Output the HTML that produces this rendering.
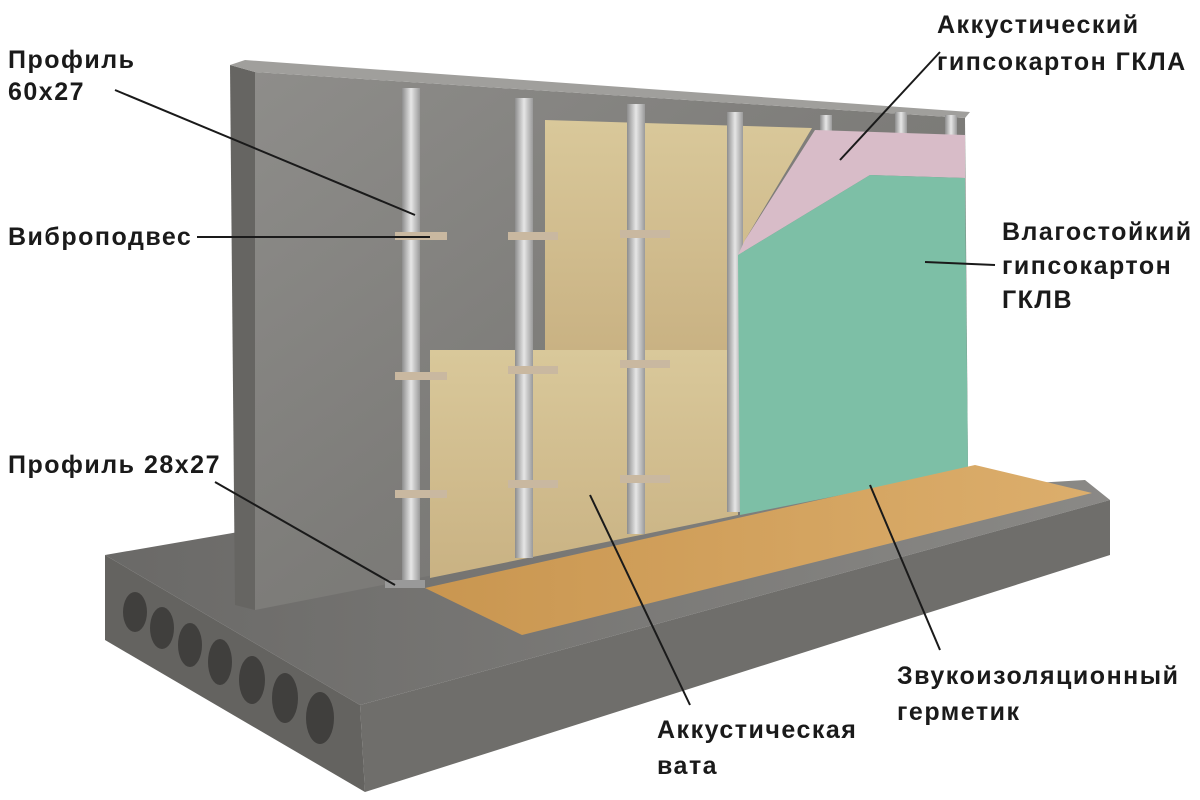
<!DOCTYPE html>
<html><head><meta charset="utf-8"><style>
html,body{margin:0;padding:0;background:#fff;}
svg{display:block}
text{font-family:"Liberation Sans",sans-serif;font-size:25px;fill:#1a1a1a;font-weight:bold;letter-spacing:1.5px;}
</style></head><body>
<svg width="1200" height="800" viewBox="0 0 1200 800" xmlns="http://www.w3.org/2000/svg">
<defs>
<linearGradient id="wall" x1="0" y1="0" x2="1" y2="1">
<stop offset="0" stop-color="#8e8d8a"/><stop offset="0.5" stop-color="#7d7c79"/><stop offset="1" stop-color="#72716e"/></linearGradient>
<linearGradient id="slabTop" x1="0" y1="0" x2="1" y2="0">
<stop offset="0" stop-color="#6a6967"/><stop offset="1" stop-color="#8a8986"/></linearGradient>
<linearGradient id="wood" x1="0" y1="0" x2="1" y2="0">
<stop offset="0" stop-color="#c99650"/><stop offset="1" stop-color="#dcae6c"/></linearGradient>
<linearGradient id="wool" x1="0" y1="0" x2="0" y2="1">
<stop offset="0" stop-color="#d9c89a"/><stop offset="1" stop-color="#c9b283"/></linearGradient>
<linearGradient id="metal" x1="0" y1="0" x2="1" y2="0">
<stop offset="0" stop-color="#8d8d8d"/><stop offset="0.5" stop-color="#e6e6e6"/><stop offset="1" stop-color="#9a9a9a"/></linearGradient>
</defs>
<polygon points="105,555 250,530 1085,480 1110,500 360,705" fill="url(#slabTop)"/>
<polygon points="360,705 1110,500 1110,555 365,792" fill="#6f6e6b"/>
<polygon points="105,555 360,705 365,792 105,640" fill="#646360"/>
<g fill="#403f3d">
<ellipse cx="135" cy="612" rx="12" ry="20"/><ellipse cx="162" cy="628" rx="12" ry="21"/>
<ellipse cx="190" cy="645" rx="12" ry="22"/><ellipse cx="220" cy="662" rx="12" ry="23"/>
<ellipse cx="252" cy="680" rx="13" ry="24"/><ellipse cx="285" cy="698" rx="13" ry="25"/>
<ellipse cx="320" cy="718" rx="14" ry="26"/></g>
<polygon points="230,65 255,72 255,610 235,605" fill="#666562"/>
<polygon points="255,72 965,118 968,470 255,610" fill="url(#wall)"/>
<polygon points="230,65 245,60 970,112 965,118 255,72" fill="#a09f9c"/>
<polygon points="545,120 812,128 745,240 735,350 545,350" fill="url(#wool)"/>
<polygon points="430,350 735,350 738,515 430,578" fill="url(#wool)"/>
<g fill="url(#metal)">
<rect x="402" y="88" width="18" height="500"/><rect x="515" y="98" width="18" height="460"/>
<rect x="627" y="104" width="18" height="430"/><rect x="727" y="112" width="16" height="400"/>
<rect x="820" y="115" width="12" height="20"/><rect x="895" y="112" width="12" height="25"/>
<rect x="945" y="115" width="12" height="25"/></g>
<g fill="#c9b8a0">
<rect x="395" y="232" width="52" height="8"/><rect x="508" y="232" width="50" height="8"/>
<rect x="620" y="230" width="50" height="8"/><rect x="395" y="372" width="52" height="8"/>
<rect x="508" y="366" width="50" height="8"/><rect x="620" y="360" width="50" height="8"/>
<rect x="395" y="490" width="52" height="8"/><rect x="508" y="480" width="50" height="8"/>
<rect x="620" y="475" width="50" height="8"/></g>
<polygon points="745,240 815,130 965,135 965,178 870,175 738,255" fill="#d8bcc8"/>
<polygon points="738,255 870,175 965,178 968,470 740,515" fill="#7dbfa6"/>
<polygon points="425,588 975,465 1092,493 522,635" fill="url(#wood)"/>
<rect x="385" y="580" width="40" height="8" fill="#999"/>
<g stroke="#1a1a1a" stroke-width="2">
<line x1="115" y1="90" x2="415" y2="215"/><line x1="197" y1="237" x2="430" y2="237"/>
<line x1="215" y1="482" x2="395" y2="585"/><line x1="940" y1="52" x2="840" y2="160"/>
<line x1="995" y1="265" x2="925" y2="262"/><line x1="940" y1="650" x2="870" y2="485"/>
<line x1="690" y1="705" x2="590" y2="495"/></g>
<text x="8" y="68">Профиль</text><text x="8" y="100">60x27</text>
<text x="8" y="245">Виброподвес</text>
<text x="8" y="473">Профиль 28x27</text>
<text x="937" y="33">Аккустический</text><text x="937" y="70">гипсокартон ГКЛА</text>
<text x="1002" y="240">Влагостойкий</text><text x="1002" y="274">гипсокартон</text><text x="1002" y="308">ГКЛВ</text>
<text x="897" y="684">Звукоизоляционный</text><text x="897" y="720">герметик</text>
<text x="657" y="738">Аккустическая</text><text x="657" y="774">вата</text>
</svg>
</body></html>
